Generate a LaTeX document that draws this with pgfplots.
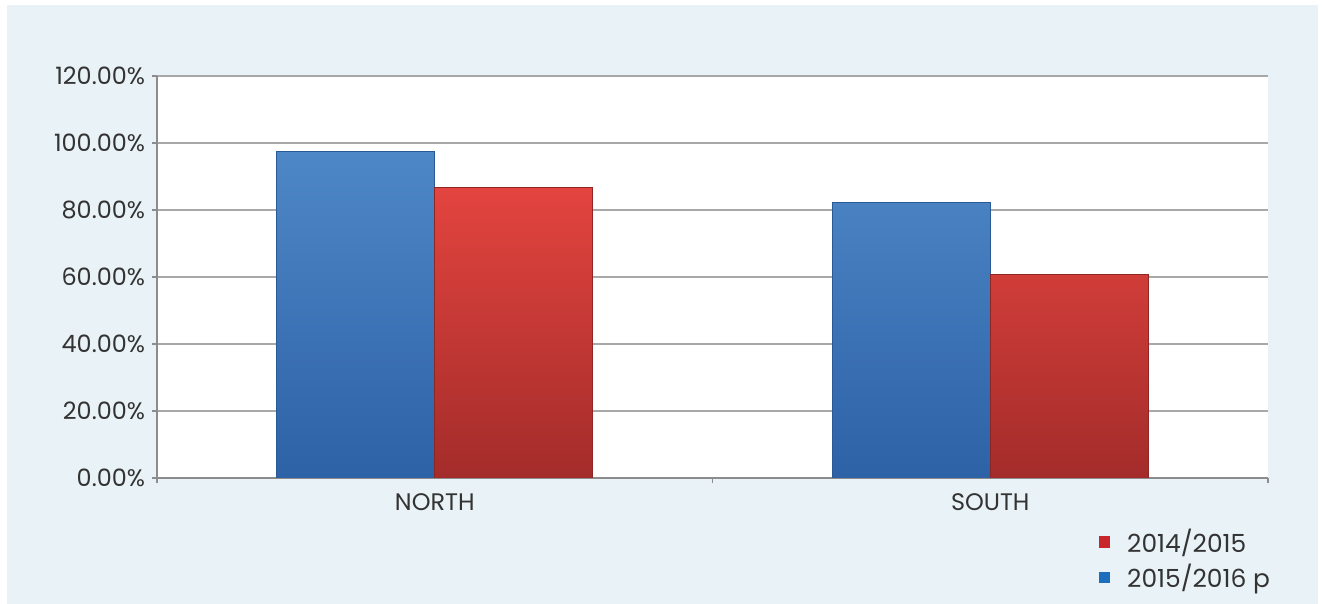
\documentclass[border=0pt]{standalone}
\usepackage{fontspec}
\setmainfont{Poppins}
\usepackage{pgfplots}
\pgfplotsset{compat=1.18}
\definecolor{panel}{HTML}{E9F2F6}
\definecolor{txt}{HTML}{333333}
\definecolor{gridc}{HTML}{A8A8A8}
\definecolor{axc}{HTML}{8C8C8C}
\definecolor{bluetop}{HTML}{4E87C8}
\definecolor{bluebot}{HTML}{2D62A6}
\definecolor{blueedge}{HTML}{2A5A96}
\definecolor{redtop}{HTML}{E3443F}
\definecolor{redbot}{HTML}{A32C2A}
\definecolor{rededge}{HTML}{8E2624}
\definecolor{legred}{HTML}{C8262A}
\definecolor{legblue}{HTML}{1E6EBE}
\begin{document}
\begin{tikzpicture}
\fill[white] (0,0) rectangle (662bp,302bp);
\fill[panel] (3.5bp,0) rectangle (659bp,299.5bp);
\begin{axis}[
  at={(78.5bp,63bp)}, anchor=south west,
  scale only axis, width=555.5bp, height=201bp,
  xmin=-0.5, xmax=1.5, ymin=0, ymax=120,
  axis background/.style={fill=white},
  axis x line*=bottom, axis y line*=left,
  axis line style={draw=axc, line width=0.8bp},
  ytick={0,20,...,120},
  ymajorgrids, grid style={draw=gridc, line width=0.8bp},
  yticklabel={\pgfmathprintnumber[fixed,fixed zerofill,precision=2]{\tick}\%},
  /pgf/number format/assume math mode=true,
  xtick={0,1}, xticklabels={NORTH,SOUTH},
  minor xtick={-0.5,0.5,1.5},
  tick align=outside,
  major tick length=2.5bp, minor tick length=2.5bp,
  major x tick style={draw=none},
  tick style={draw=axc, line width=0.8bp},
  ticklabel style={font=\fontsize{12}{14}\selectfont, text=txt},
  xticklabel style={yshift=-2bp},
  legend style={draw=none, fill=none, at={(0.842,-0.105)}, anchor=north west,
    font=\fontsize{12.5}{15}\selectfont, text=txt, row sep=0.5bp,
    legend cell align=left},
  legend image code/.code={\fill[#1] (0bp,-2.6bp) rectangle (5.2bp,2.6bp); \path[draw=none,fill=none] (0bp,0bp) -- (12bp,0bp);},
]
\addlegendimage{legred}
\addlegendentry{2014/2015}
\addlegendimage{legblue}
\addlegendentry{2015/2016 p}
\addplot[ybar, bar width=79bp, bar shift=-39.5bp, draw=blueedge, line width=0.5bp,
  shade, top color=bluetop, bottom color=bluebot, forget plot]
  coordinates {(0,97.4) (1,82.2)};
\addplot[ybar, bar width=79bp, bar shift=39.5bp, draw=rededge, line width=0.5bp,
  shade, top color=redtop, bottom color=redbot, forget plot]
  coordinates {(0,86.7) (1,60.6)};
\end{axis}
\end{tikzpicture}
\end{document}
